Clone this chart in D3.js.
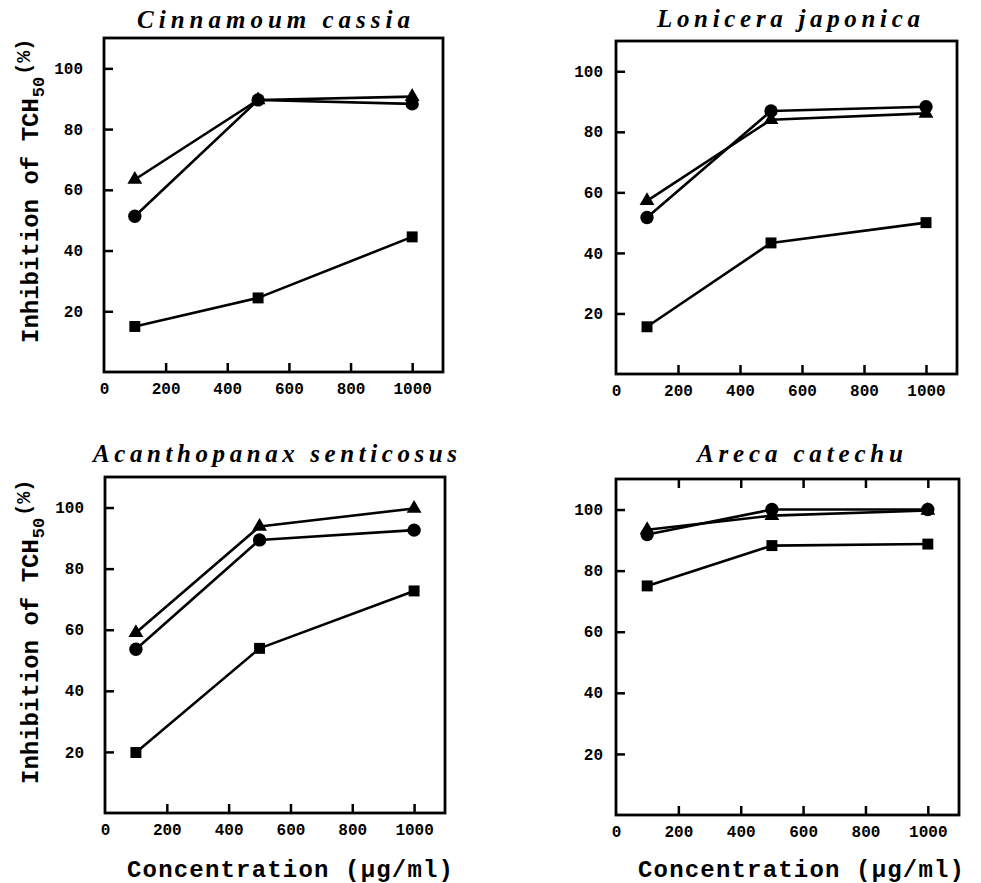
<!DOCTYPE html>
<html>
<head>
<meta charset="utf-8">
<script src="https://cdn.jsdelivr.net/npm/d3@7"></script>
<style>
  body { margin: 0; background: #fff; }
  svg { display: block; }
</style>
</head>
<body>
<div id="chart"></div>
<script>
const width = 981;
const height = 883;

// data
const concentrations = [100, 500, 1000];
const panelTitles = ["Cinnamoum cassia", "Lonicera japonica", "Acanthopanax senticosus", "Areca catechu"];
const triangleSeries = [[63.4, 89.6, 90.7], [57.2, 84.0, 86.1], [59.0, 93.8, 99.7], [93.4, 98.0, 99.7]];
const circleSeries = [[51.3, 89.6, 88.3], [51.7, 86.9, 88.3], [53.6, 89.4, 92.6], [91.8, 100.0, 100.0]];
const squareSeries = [[15.0, 24.4, 44.5], [15.6, 43.3, 50.0], [19.8, 53.9, 72.7], [75.0, 88.2, 88.7]];
const xTicks = [0, 200, 400, 600, 800, 1000];
const yTicks = [20, 40, 60, 80, 100];

// frame boxes for the four panels
const layout = [
  {left: 104, top: 38, w: 339, h: 334, pad: 21, titleX: 137, titleW: 273, titleY: 28, yLabel: true, xLabel: false, topTicks: false},
  {left: 616, top: 41, w: 341, h: 333, pad: 13, titleX: 657, titleW: 263, titleY: 27, yLabel: false, xLabel: false, topTicks: false},
  {left: 105, top: 477, w: 340, h: 336, pad: 21, titleX: 93, titleW: 364, titleY: 462, yLabel: true, xLabel: true, topTicks: false},
  {left: 616, top: 479, w: 343, h: 336, pad: 13, titleX: 697, titleW: 206, titleY: 462, yLabel: false, xLabel: true, topTicks: true}
];

const mono = "'Liberation Mono', 'DejaVu Sans Mono', monospace";

const svg = d3.select('#chart')
  .append('svg')
  .attr('width', width)
  .attr('height', height)
  .attr('viewBox', [0, 0, width, height]);

layout.forEach((p, i) => {
  const x = d3.scaleLinear().domain([0, 1100]).range([p.left, p.left + p.w]);
  const y = d3.scaleLinear().domain([0, 110]).range([p.top + p.h, p.top]);
  const g = svg.append('g');

  // title
  g.append('text')
    .attr('x', p.titleX)
    .attr('y', p.titleY)
    .attr('textLength', p.titleW)
    .attr('lengthAdjust', 'spacing')
    .attr('font-family', "'Liberation Serif', 'DejaVu Serif', serif")
    .attr('font-style', 'italic')
    .attr('font-weight', 'bold')
    .attr('font-size', 25)
    .text(panelTitles[i]);

  // x axis (ticks pointing inward)
  const xAxis = g.append('g')
    .attr('transform', `translate(0, ${p.top + p.h})`)
    .call(d3.axisBottom(x).tickValues(xTicks).tickFormat(d3.format('d'))
      .tickSizeInner(-9).tickSizeOuter(0).tickPadding(11));
  xAxis.select('.domain').remove();
  xAxis.selectAll('line').attr('stroke-width', 2.5);
  xAxis.selectAll('text')
    .attr('font-family', mono).attr('font-weight', 'bold').attr('font-size', 16).attr('fill', '#000');
  xAxis.selectAll('.tick').filter(d => d === 0).select('line').remove();

  if (p.topTicks) {
    const tAxis = g.append('g')
      .attr('transform', `translate(0, ${p.top})`)
      .call(d3.axisTop(x).tickValues(xTicks.slice(1)).tickSizeInner(-9).tickSizeOuter(0).tickFormat(''));
    tAxis.select('.domain').remove();
    tAxis.selectAll('line').attr('stroke-width', 2.5);
  }

  // y axis
  const yAxis = g.append('g')
    .attr('transform', `translate(${p.left}, 0)`)
    .call(d3.axisLeft(y).tickValues(yTicks).tickSizeInner(-9).tickSizeOuter(0).tickPadding(p.pad));
  yAxis.select('.domain').remove();
  yAxis.selectAll('line').attr('stroke-width', 2.5);
  yAxis.selectAll('text')
    .attr('font-family', mono).attr('font-weight', 'bold').attr('font-size', 16).attr('fill', '#000');

  // frame
  g.append('rect')
    .attr('x', p.left).attr('y', p.top)
    .attr('width', p.w).attr('height', p.h)
    .attr('fill', 'none').attr('stroke', '#000').attr('stroke-width', 2.8);

  const line = d3.line()
    .x((d, j) => x(concentrations[j]))
    .y(d => y(d));

  const series = [
    {vals: triangleSeries[i], sym: d3.symbolTriangle, size: 95},
    {vals: circleSeries[i], sym: d3.symbolCircle, size: 140},
    {vals: squareSeries[i], sym: d3.symbolSquare, size: 120}
  ];

  series.forEach(s => {
    g.append('path')
      .datum(s.vals)
      .attr('d', line)
      .attr('fill', 'none')
      .attr('stroke', '#000')
      .attr('stroke-width', 2.6)
      .attr('stroke-linejoin', 'round');

    g.selectAll(null)
      .data(s.vals)
      .enter()
      .append('path')
        .attr('transform', (d, j) => `translate(${x(concentrations[j])}, ${y(d)})`)
        .attr('d', d3.symbol().type(s.sym).size(s.size))
        .attr('fill', '#000');
  });

  if (p.yLabel) {
    const lbl = g.append('text')
      .attr('transform', `translate(38, ${p.top + p.h - 29}) rotate(-90)`)
      .attr('font-family', mono)
      .attr('font-weight', 'bold')
      .attr('font-size', 24)
      .attr('fill', '#000');
    lbl.append('tspan').text('Inhibition of TCH');
    lbl.append('tspan').attr('dy', 6).attr('dx', 1).attr('font-size', 17).text('50');
    lbl.append('tspan').attr('dy', -14).attr('dx', 2).attr('font-size', 20).text('(%)');
  }

  if (p.xLabel) {
    g.append('text')
      .attr('x', p.left + 22)
      .attr('y', 877)
      .attr('textLength', 326)
      .attr('lengthAdjust', 'spacing')
      .attr('font-family', mono)
      .attr('font-weight', 'bold')
      .attr('font-size', 24)
      .attr('fill', '#000')
      .text('Concentration (\u03bcg/ml)');
  }
});

svg.node();
</script>
</body>
</html>
